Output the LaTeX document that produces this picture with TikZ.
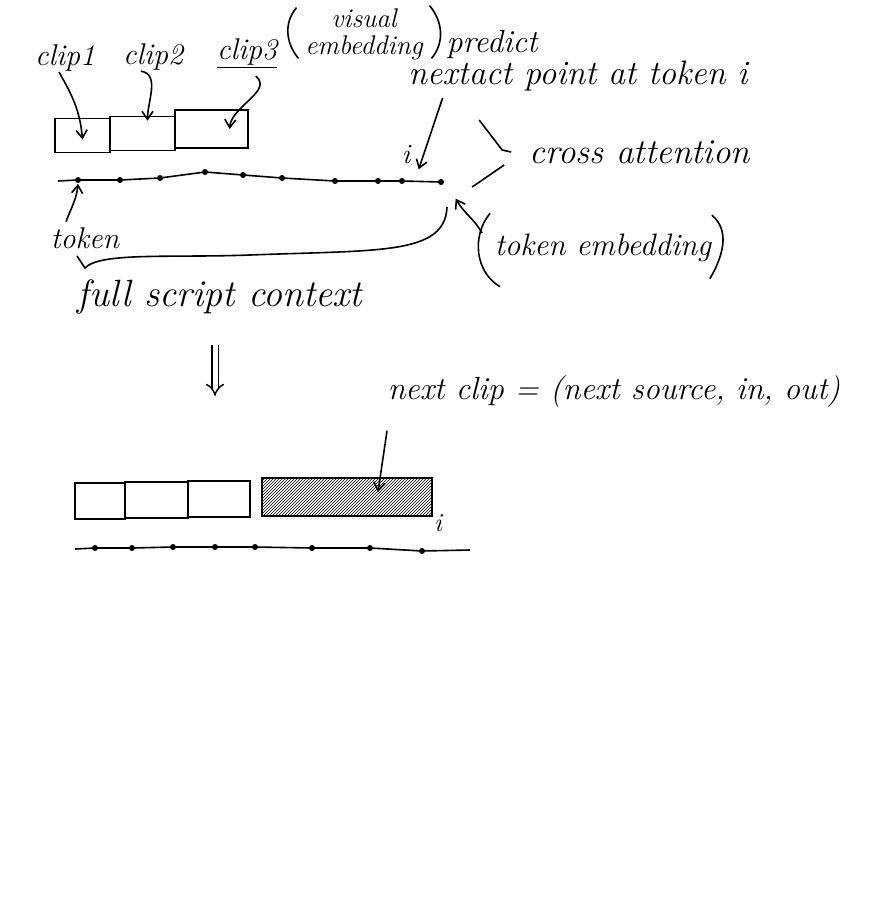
\documentclass[tikz,border=0pt]{standalone}
\usetikzlibrary{arrows.meta,positioning,patterns,calc}
\newcommand{\hand}[1]{\fontsize{#1}{#1}\selectfont\itshape}
\tikzstyle{clipbox}=[rectangle, draw=black, line width=1.6pt, minimum height=34pt, inner sep=0pt, anchor=center]
\tikzstyle{tok}=[circle, fill=black, minimum size=6pt, inner sep=0pt]
\tikzstyle{annot}=[align=center, inner sep=0pt, font=\hand{30}]
\tikzstyle{pointer}=[line width=1.6pt, -{Straight Barb[length=8pt,width=11pt]}]

\begin{document}
\begin{tikzpicture}[x=1pt, y=-1pt, line width=1.6pt]
	\fill[white] (0,0) rectangle (868,905);
	\useasboundingbox (0,0) rectangle (868,905);

	% labels on top
	\node[annot] (lclipA) at (65,58) {clip1};
	\node[annot] (lclipB) at (153,57) {clip2};
	\node[annot] (lclipC) at (247,53) {\underline{clip3}};
	\node[annot, font=\hand{27}] (lvis) at (364,34) {visual\\embedding};
	\draw ([xshift=-8pt]lvis.north west) to[out=-130,in=130] ([xshift=-6pt,yshift=2pt]lvis.south west);
	\draw ([xshift=6pt,yshift=2pt]lvis.north east) to[out=-50,in=50] ([xshift=8pt,yshift=2pt]lvis.south east);
	\node[annot, font=\hand{32}] (lpred) at (492,44) {predict};
	\node[annot, font=\hand{34}] (lnext) at (578,76) {nextact point at token i};

	% the three clips
	\node[clipbox, minimum width=55pt] (clipA) at (82.5,135.5) {};
	\node[clipbox, minimum width=65pt] (clipB) at (142.5,133.5) {};
	\node[clipbox, minimum width=73pt, minimum height=38pt] (clipC) at (211.5,129) {};
	\draw[pointer] ([xshift=-6pt]lclipA.south) to[out=-60,in=95] ([yshift=-4pt]clipA.center);
	\draw[pointer] ([xshift=-12pt]lclipB.south) to[out=-10,in=90] ([xshift=5pt,yshift=-5pt]clipB.north);
	\draw[pointer] ([xshift=-22pt,yshift=-8pt]lclipC.south east) to[out=-40,in=85] ([xshift=18pt]clipC.center);

	% tokens of the script
	\coordinate (lineA) at (58,181);
	\foreach \n/\x/\y in {1/78/180, 2/120/180, 3/160/178, 4/205/172, 5/243/175,
	                      6/282/178, 7/335/181, 8/378/181, 9/402/181, 10/441/182}
		\node[tok] (t\n) at (\x,\y) {};
	\draw (lineA) -- (t1.center) -- (t2.center) -- (t3.center) -- (t4.center) -- (t5.center)
		-- (t6.center) -- (t7.center) -- (t8.center) -- (t9.center) -- (t10.center);
	\node[annot, font=\hand{28}] (li) at (406,155) {i};
	\draw[pointer] ([xshift=35pt,yshift=-6pt]lnext.south west) -- ([xshift=14pt,yshift=9pt]t9.north east);

	% cross attention
	\node[annot, font=\hand{35}] (lcross) at (640,152) {cross attention};
	\draw ([xshift=-50pt,yshift=32pt]lcross.west) -- ([xshift=-27pt,yshift=2pt]lcross.west)
		-- ([xshift=-18pt,yshift=0pt]lcross.west);
	\draw ([xshift=-25pt,yshift=-13pt]lcross.west) -- ([xshift=-57pt,yshift=-35pt]lcross.west);

	% token
	\node[annot] (ltoken) at (85,238) {token};
	\draw[pointer] ([xshift=16pt,yshift=5pt]ltoken.north west) to[out=70,in=-95] (t1.south);

	% full script context
	\node[annot, font=\hand{38}] (lfull) at (220,297) {full script context};
	\draw (77,256) -- (85,268) .. controls (100,252) and (170,258) .. (250,255)
		.. controls (380,250) and (445,255) .. (447,207);

	% token embedding
	\node[annot, font=\hand{31}] (lemb) at (603,248) {token embedding};
	\draw ([xshift=-4pt,yshift=20pt]lemb.north west) to[out=-130,in=150] ([xshift=6pt,yshift=-24pt]lemb.south west);
	\draw ([xshift=0pt,yshift=18pt]lemb.north east) to[out=-40,in=60] ([xshift=-2pt,yshift=-16pt]lemb.south east);
	\draw[pointer] ([xshift=-12pt,yshift=15pt]lemb.west) to[out=120,in=-60] ([xshift=12pt,yshift=-14pt]t10.south east);

	% next step
	\draw[double, double distance=5pt, line width=1.4pt, -{Implies}] (215,345) -- (215,396);

	\node[annot, font=\hand{32}] (lnclip) at (614,392) {next clip = (next source, in, out)};

	\node[clipbox, minimum width=50pt, minimum height=36pt] (nA) at (100,501) {};
	\node[clipbox, minimum width=63pt, minimum height=36pt] (nB) at (156.5,500) {};
	\node[clipbox, minimum width=62pt, minimum height=36pt] (nC) at (219,499) {};
	\node[clipbox, minimum width=170pt, minimum height=38pt,
	      pattern=north east lines, pattern color=black] (nD) at (347,497) {};
	\node[annot, font=\hand{26}] (ni) at (438,523) {i};
	\draw[pointer] ([yshift=-22pt]lnclip.south west) -- ([xshift=31pt,yshift=5pt]nD.center);

	\coordinate (lineB) at (75,549);
	\coordinate (lineE) at (470,550);
	\foreach \n/\x/\y in {1/95/548, 2/132/548, 3/173/547, 4/215/547, 5/255/547,
	                      6/312/548, 7/370/548, 8/422/551}
		\node[tok] (u\n) at (\x,\y) {};
	\draw (lineB) -- (u1.center) -- (u2.center) -- (u3.center) -- (u4.center) -- (u5.center)
		-- (u6.center) -- (u7.center) -- (u8.center) -- (lineE);

\end{tikzpicture}
\end{document}
